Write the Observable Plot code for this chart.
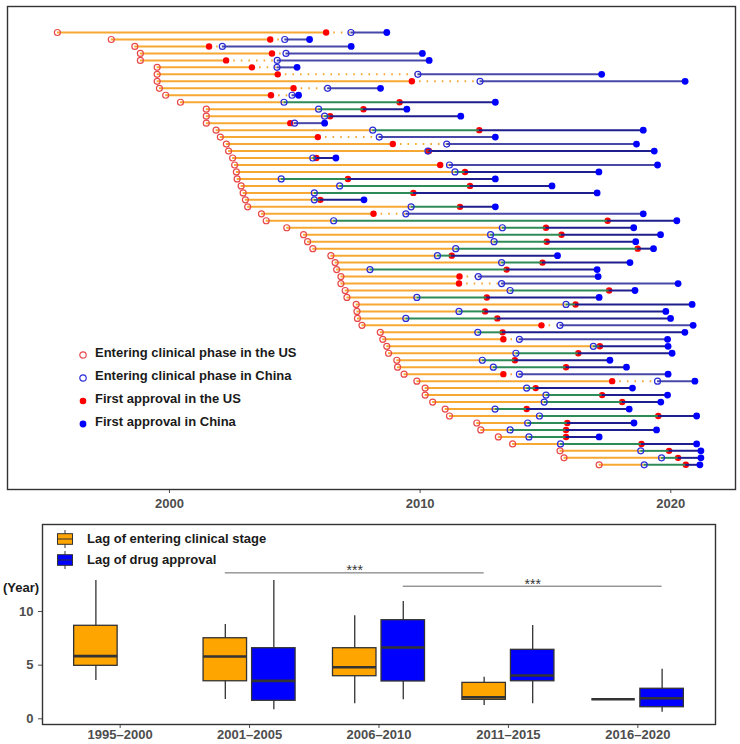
<!DOCTYPE html>
<html><head><meta charset="utf-8">
<script src="https://cdn.jsdelivr.net/npm/d3@7"></script>
<script src="https://cdn.jsdelivr.net/npm/@observablehq/plot@0.6"></script>
<style>
body{margin:0;background:#fff;font-family:"Liberation Sans",Arial,sans-serif;}
#wrap{position:relative;width:740px;height:744px;overflow:hidden;}
.abs{position:absolute;}
.lg{position:absolute;font-weight:bold;font-size:13px;color:#1a1a1a;white-space:nowrap;line-height:13px;}
</style></head><body><div id="wrap"></div>
<script>
// ---- Top chart data: one row per drug (years) ----
const usClinical = [1995.53,1997.68,1998.62,1998.84,1998.84,1999.51,1999.51,1999.51,1999.60,1999.85,
  2000.44,2001.47,2001.47,2001.47,2001.86,2002.03,2002.27,2002.36,2002.52,2002.60,
  2002.67,2002.70,2002.86,2002.94,2003.03,2003.12,2003.67,2003.86,2004.68,2005.35,
  2005.51,2005.72,2006.44,2006.61,2006.67,2006.84,2006.84,2007.01,2007.08,2007.45,
  2007.48,2007.50,2007.68,2008.41,2008.51,2008.67,2008.74,2009.07,2009.10,2009.36,
  2009.87,2010.20,2010.20,2010.50,2011.00,2011.17,2012.26,2012.42,2013.12,2013.69,
  2015.58,2015.74,2017.14];
const cnClinical = [2007.24,2004.60,2002.11,2004.65,2004.30,2004.29,2009.91,2012.39,2006.31,2004.89,
  2004.57,2005.95,2006.19,2004.99,2008.11,2008.37,2011.06,2010.31,2005.72,2011.17,
  2011.39,2004.46,2006.79,2005.78,2005.78,2009.64,2009.43,2006.55,2013.28,2012.81,
  2012.95,2011.42,2010.69,2013.25,2008.00,2012.32,2013.25,2013.59,2009.87,2015.82,
  2011.55,2009.43,2015.58,2012.30,2013.96,2016.91,2013.82,2012.48,2012.92,2013.96,
  2019.47,2014.25,2015.02,2014.95,2012.99,2014.76,2014.29,2013.59,2014.34,2015.60,
  2018.80,2019.63,2018.94];
const usApproval = [2006.25,2004.02,2001.58,2004.09,2002.26,2003.29,2004.32,2009.67,2004.95,2004.05,
  2009.18,2007.74,2006.41,2004.82,2012.36,2005.92,2008.91,2010.35,2005.86,2010.80,
  2011.79,2007.12,2011.99,2009.73,2006.02,2011.59,2008.14,2017.48,2015.02,2015.64,
  2015.05,2018.68,2011.26,2014.88,2013.45,2011.57,2011.55,2017.54,2012.66,2016.20,
  2012.59,2013.08,2014.84,2013.29,2013.32,2017.17,2016.31,2013.78,2015.82,2013.32,
  2017.66,2014.61,2017.26,2018.06,2014.25,2019.50,2015.87,2015.82,2015.82,2018.83,
  2019.93,2020.29,2020.60];
const cnApproval = [2008.67,2005.59,2007.25,2010.09,2010.36,2005.09,2017.24,2020.57,2008.42,2005.15,
  2013.00,2009.47,2011.62,2006.19,2018.90,2013.00,2018.63,2019.34,2006.64,2019.47,
  2017.13,2013.00,2015.26,2017.06,2007.76,2013.00,2018.90,2020.24,2018.52,2019.59,
  2018.60,2019.31,2015.48,2018.37,2017.06,2017.10,2020.29,2018.57,2017.14,2020.85,
  2019.80,2019.99,2020.89,2020.56,2019.87,2019.89,2020.05,2017.57,2018.23,2019.89,
  2020.96,2018.47,2019.87,2019.60,2018.34,2021.03,2018.53,2019.43,2017.14,2021.03,
  2021.20,2021.20,2021.16];
const yearTicks = [2000, 2010, 2020];
const topLegend = ["Entering clinical phase in the US","Entering clinical phase in China","First approval in the US","First approval in China"];

// ---- Bottom chart data: box statistics (years of lag) ----
const periods = ["1995–2000","2001–2005","2006–2010","2011–2015","2016–2020"];
const lagGroups = ["Lag of entering clinical stage","Lag of drug approval"];
const clinLow  = [3.57,1.80,1.40,1.24,1.83];
const clinQ1   = [4.94,3.50,3.97,1.77,1.83];
const clinMed  = [5.84,5.81,4.81,2.01,1.83];
const clinQ3   = [8.67,7.51,6.58,3.35,1.83];
const clinHigh = [12.90,8.79,9.60,3.88,1.83];
const apprLow  = [null,0.84,1.77,1.40,0.62];
const apprQ1   = [null,1.68,3.48,3.50,1.08];
const apprMed  = [null,3.54,6.64,4.04,1.92];
const apprQ3   = [null,6.58,9.19,6.43,2.80];
const apprHigh = [null,12.90,10.93,8.70,4.62];
const lagTicks = [0, 5, 10];
// significance brackets: [period index, group index]
const sigFrom  = [[1,0],[2,1]];
const sigTo    = [[3,0],[4,1]];
const sigLevel = [13.6, 12.36];
const sigText  = ["***","***"];

// ---- styles ----
const ORANGE = "#F7A833", GREEN = "#2E8B57", NAVY = "#1E1E8C", NAVY_L = "#4848A8";
const RED_RING = "#E8494B", BLUE_RING = "#2B2BD9", RED = "#FF0000", BLUE = "#0000FF";
const BOXFILL = ["#FFA500", "#0000FF"];
const FONT = '"Liberation Sans", Arial, sans-serif';

const rows = usClinical.map((d, i) => ({row: i, us0: d, cn0: cnClinical[i], us1: usApproval[i], cn1: cnApproval[i]}));

const wrap = document.getElementById("wrap");

const topPlot = Plot.plot({
  width: 740, height: 510,
  marginLeft: 7, marginRight: 5, marginTop: 6, marginBottom: 21,
  x: {domain: [1993.54, 2022.58]},
  y: {domain: [-3.73, 65.54], reverse: true, axis: null},
  color: {type: "identity"},
  style: {fontFamily: FONT, fontSize: "13px", fontWeight: "bold", color: "#4D4D4D", background: "white"},
  marks: [
    Plot.axisX({ticks: yearTicks, tickSize: 4, tickFormat: d => String(d), label: null}),
    Plot.ruleY(rows, {y: "row", x1: "us0", x2: d => Math.min(d.cn0, d.us1), stroke: ORANGE, strokeWidth: 2}),
    Plot.ruleY(rows.filter(d => d.us1 < d.cn0), {y: "row", x1: "us1", x2: "cn0", stroke: ORANGE, strokeWidth: 2, strokeDasharray: "1.6,6"}),
    Plot.dot(rows, {x: "us1", y: "row", r: 3.2, fill: RED, stroke: "none"}),
    Plot.ruleY(rows.filter(d => d.cn0 < d.us1), {y: "row", x1: "cn0", x2: "us1", stroke: GREEN, strokeWidth: 2}),
    Plot.ruleY(rows, {y: "row", x1: d => Math.max(d.cn0, d.us1), x2: "cn1", stroke: d => d.us1 < d.cn0 ? NAVY_L : NAVY, strokeWidth: 2}),
    Plot.dot(rows, {x: "us0", y: "row", r: 3, fill: "none", stroke: RED_RING, strokeWidth: 1.2}),
    Plot.dot(rows, {x: "cn0", y: "row", r: 3, fill: "none", stroke: BLUE_RING, strokeWidth: 1.2}),
    Plot.dot(rows, {x: "cn1", y: "row", r: 3.4, fill: BLUE, stroke: "none"}),
    Plot.frame({stroke: "#333333", strokeWidth: 1.4})
  ]
});
topPlot.style.position = "absolute"; topPlot.style.left = "0px"; topPlot.style.top = "0px";
wrap.appendChild(topPlot);

// top legend (inside panel)
const legendSym = [
  `<circle cx="6" cy="6" r="3.2" fill="none" stroke="${RED_RING}" stroke-width="1.2"/>`,
  `<circle cx="6" cy="6" r="3.2" fill="none" stroke="${BLUE_RING}" stroke-width="1.2"/>`,
  `<circle cx="6" cy="6" r="3.3" fill="${RED}"/>`,
  `<circle cx="6" cy="6" r="3.4" fill="${BLUE}"/>`
];
topLegend.forEach((t, i) => {
  const yc = 353 + i * 23;
  const s = document.createElement("div");
  s.className = "abs"; s.style.left = "77px"; s.style.top = (yc - 6) + "px";
  s.innerHTML = `<svg width="12" height="12">${legendSym[i]}</svg>`;
  wrap.appendChild(s);
  const l = document.createElement("div");
  l.className = "lg"; l.style.left = "95px"; l.style.top = (yc - 7) + "px"; l.textContent = t;
  wrap.appendChild(l);
});

// ---- bottom boxplot ----
const OFF = 0.1875, HW = 0.168;
const boxes = [];
periods.forEach((p, i) => {
  boxes.push({g: 0, xc: i - OFF, low: clinLow[i], q1: clinQ1[i], med: clinMed[i], q3: clinQ3[i], high: clinHigh[i]});
  if (apprMed[i] != null) boxes.push({g: 1, xc: i + OFF, low: apprLow[i], q1: apprQ1[i], med: apprMed[i], q3: apprQ3[i], high: apprHigh[i]});
});
boxes.forEach(b => { b.xl = b.xc - HW; b.xr = b.xc + HW; b.fill = BOXFILL[b.g]; });
const sig = sigLevel.map((y, k) => ({
  y, label: sigText[k],
  x1: sigFrom[k][0] + (sigFrom[k][1] ? OFF : -OFF),
  x2: sigTo[k][0] + (sigTo[k][1] ? OFF : -OFF)
}));
sig.forEach(s => s.xm = (s.x1 + s.x2) / 2);

const botPlot = Plot.plot({
  width: 740, height: 234,
  marginLeft: 42, marginRight: 25, marginTop: 14, marginBottom: 20,
  x: {domain: [-0.6, 4.6]},
  y: {domain: [-0.53, 18.11]},
  color: {type: "identity"},
  style: {fontFamily: FONT, fontSize: "13px", fontWeight: "bold", color: "#4D4D4D", background: "white"},
  marks: [
    Plot.axisX({ticks: [0, 1, 2, 3, 4], tickFormat: i => periods[i], tickSize: 4, tickPadding: 1, label: null}),
    Plot.axisY({ticks: lagTicks, tickSize: 4, label: null}),
    Plot.ruleX(boxes, {x: "xc", y1: "low", y2: "high", stroke: "#333333", strokeWidth: 1.3}),
    Plot.rect(boxes, {x1: "xl", x2: "xr", y1: "q1", y2: "q3", fill: "fill", stroke: "#333333", strokeWidth: 1.3}),
    Plot.ruleY(boxes, {y: "med", x1: "xl", x2: "xr", stroke: "#333333", strokeWidth: 2.6}),
    Plot.ruleY(sig, {y: "y", x1: "x1", x2: "x2", stroke: "#555555", strokeWidth: 0.9}),
    Plot.text(sig, {x: "xm", y: "y", text: "label", dy: -2, fontSize: 14, fontWeight: "normal", fill: "#333333"}),
    Plot.frame({stroke: "#333333", strokeWidth: 1.4})
  ]
});
botPlot.style.position = "absolute"; botPlot.style.left = "0px"; botPlot.style.top = "510px";
wrap.appendChild(botPlot);

// bottom legend
lagGroups.forEach((t, i) => {
  const yc = 539.3 + i * 20.8;
  const s = document.createElement("div");
  s.className = "abs"; s.style.left = "56px"; s.style.top = (yc - 10) + "px";
  s.innerHTML = `<svg width="18" height="20"><line x1="9" x2="9" y1="1" y2="19" stroke="#333" stroke-width="1"/>` +
    `<rect x="1.5" y="4.7" width="15" height="10.6" fill="${BOXFILL[i]}" stroke="#333" stroke-width="1"/>` +
    `<line x1="1.5" x2="16.5" y1="10" y2="10" stroke="#333" stroke-width="1"/></svg>`;
  wrap.appendChild(s);
  const l = document.createElement("div");
  l.className = "lg"; l.style.left = "87px"; l.style.top = (yc - 7) + "px"; l.textContent = t;
  wrap.appendChild(l);
});
const yl = document.createElement("div");
yl.className = "lg"; yl.style.left = "3px"; yl.style.top = "581px"; yl.textContent = "(Year)";
wrap.appendChild(yl);
</script></body></html>
